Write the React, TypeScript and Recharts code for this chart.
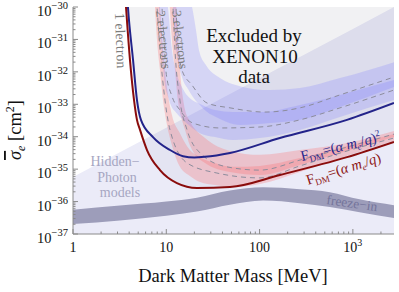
import React from "react";
import { ComposedChart, Area, Line, XAxis, YAxis } from "recharts";

const SERIF = "'Times New Roman', 'Liberation Serif', Times, serif";

// x: dark matter mass in MeV, y: log10 of the cross section in cm^2
const xDomain = [1, 2760];
const yDomain = [-37, -30];
const xMajor = [1, 10, 100, 1000];
const xLabels: Record<number, string> = { 1: "1", 10: "10", 100: "100" };

// region favoured by hidden-photon models (below the diagonal)
const hiddenPhoton = [
  { m: 1, lo: -37.5, hi: -35.24 },
  { m: 10, lo: -37.5, hi: -33.72 },
  { m: 100, lo: -37.5, hi: -32.2 },
  { m: 1000, lo: -37.5, hi: -30.68 },
  { m: 2760, lo: -37.5, hi: -30.0 },
];

// 1-electron XENON10 bound, F_DM = (alpha m_e / q)
const redCurve = [
  { m: 3.6, s: -29.5 },
  { m: 3.7, s: -30.0 },
  { m: 4.08, s: -31.63 },
  { m: 4.51, s: -32.87 },
  { m: 4.85, s: -33.48 },
  { m: 5.23, s: -33.79 },
  { m: 6.21, s: -34.41 },
  { m: 8.56, s: -35.03 },
  { m: 13.0, s: -35.43 },
  { m: 21.3, s: -35.58 },
  { m: 48.2, s: -35.55 },
  { m: 165, s: -35.18 },
  { m: 865, s: -34.63 },
  { m: 2760, s: -34.16 },
];

// 1-electron XENON10 bound, F_DM = (alpha m_e / q)^2
const blueCurve = [
  { m: 3.78, s: -29.5 },
  { m: 3.88, s: -30.0 },
  { m: 4.4, s: -31.63 },
  { m: 4.85, s: -32.87 },
  { m: 5.35, s: -33.48 },
  { m: 7.2, s: -34.01 },
  { m: 10.96, s: -34.41 },
  { m: 15.1, s: -34.6 },
  { m: 20, s: -34.64 },
  { m: 26.0, s: -34.62 },
  { m: 48.2, s: -34.5 },
  { m: 165, s: -34.04 },
  { m: 865, s: -33.48 },
  { m: 2760, s: -32.96 },
];

// freeze-in band
const freezeIn = [
  { m: 1, lo: -36.69, hi: -36.25 },
  { m: 3.19, lo: -36.58, hi: -36.12 },
  { m: 10, lo: -36.44, hi: -36.0 },
  { m: 21.3, lo: -36.31, hi: -35.88 },
  { m: 48, lo: -36.1, hi: -35.66 },
  { m: 109, lo: -35.97, hi: -35.56 },
  { m: 270, lo: -36.05, hi: -35.62 },
  { m: 566, lo: -36.17, hi: -35.71 },
  { m: 1180, lo: -36.33, hi: -35.93 },
  { m: 2760, lo: -36.51, hi: -36.11 },
];

// 2-electron band, F_DM = (alpha m_e / q)
const band2Red = [
  { m: 7.5, lo: -29.8, hi: -29.5 },
  { m: 7.95, lo: -31.02, hi: -29.5 },
  { m: 8.56, lo: -31.94, hi: -30.0 },
  { m: 9.22, lo: -32.87, hi: -31.33 },
  { m: 9.93, lo: -33.48, hi: -32.25 },
  { m: 11.5, lo: -34.26, hi: -33.33 },
  { m: 14.0, lo: -34.93, hi: -33.89 },
  { m: 17.9, lo: -35.21, hi: -34.41 },
  { m: 23.0, lo: -35.4, hi: -34.63 },
  { m: 33.3, lo: -35.49, hi: -34.81 },
  { m: 51.9, lo: -35.55, hi: -34.93 },
  { m: 101, lo: -35.46, hi: -34.9 },
  { m: 271, lo: -35.09, hi: -34.66 },
  { m: 865, lo: -34.59, hi: -34.29 },
  { m: 2760, lo: -34.13, hi: -33.92 },
];
const dash2Red = [
  { m: 7.7, s: -29.5 },
  { m: 7.95, s: -30.0 },
  { m: 8.56, s: -31.33 },
  { m: 9.68, s: -32.87 },
  { m: 10.96, s: -33.79 },
  { m: 16.7, s: -34.81 },
  { m: 34.9, s: -35.12 },
  { m: 101, s: -35.27 },
  { m: 271, s: -34.9 },
  { m: 865, s: -34.44 },
  { m: 2760, s: -34.04 },
];

// 3-electron band, F_DM = (alpha m_e / q)
const band3Red = [
  { m: 10.8, lo: -29.8, hi: -29.5 },
  { m: 11.5, lo: -31.02, hi: -29.5 },
  { m: 12.4, lo: -31.94, hi: -29.5 },
  { m: 13.3, lo: -32.87, hi: -31.02 },
  { m: 14.7, lo: -33.48, hi: -32.56 },
  { m: 15.9, lo: -33.79, hi: -33.18 },
  { m: 17.9, lo: -34.26, hi: -33.52 },
  { m: 26.0, lo: -34.81, hi: -34.04 },
  { m: 48.2, lo: -35.09, hi: -34.44 },
  { m: 101, lo: -35.18, hi: -34.56 },
  { m: 271, lo: -34.87, hi: -34.41 },
  { m: 865, lo: -34.44, hi: -34.19 },
  { m: 2760, lo: -34.01, hi: -33.82 },
];
const dash3Red = [
  { m: 11.6, s: -29.5 },
  { m: 11.8, s: -30.0 },
  { m: 12.4, s: -31.33 },
  { m: 14.0, s: -32.87 },
  { m: 16.7, s: -33.79 },
  { m: 23.0, s: -34.5 },
  { m: 44.7, s: -34.93 },
  { m: 101, s: -35.03 },
  { m: 271, s: -34.72 },
  { m: 865, s: -34.32 },
  { m: 2760, s: -33.92 },
];

// 2-electron band, F_DM = (alpha m_e / q)^2
const band2Blue = [
  { m: 8.25, lo: -29.8, hi: -29.5 },
  { m: 8.77, lo: -31.02, hi: -29.5 },
  { m: 9.68, lo: -32.4, hi: -29.5 },
  { m: 10.4, lo: -32.75, hi: -30.0 },
  { m: 11.5, lo: -33.1, hi: -31.33 },
  { m: 12.7, lo: -33.25, hi: -31.97 },
  { m: 15.1, lo: -33.48, hi: -32.53 },
  { m: 18.9, lo: -33.73, hi: -32.87 },
  { m: 23.0, lo: -33.89, hi: -32.99 },
  { m: 33.3, lo: -34.01, hi: -33.18 },
  { m: 51.9, lo: -34.1, hi: -33.24 },
  { m: 101, lo: -34.04, hi: -33.24 },
  { m: 271, lo: -33.79, hi: -33.02 },
  { m: 728, lo: -33.39, hi: -32.71 },
  { m: 2760, lo: -32.87, hi: -32.25 },
];
const dash2Blue = [
  { m: 8.8, s: -29.5 },
  { m: 8.99, s: -30.0 },
  { m: 9.45, s: -31.02 },
  { m: 9.93, s: -32.0 },
  { m: 11.5, s: -32.75 },
  { m: 14.0, s: -33.18 },
  { m: 19.3, s: -33.58 },
  { m: 37.6, s: -33.73 },
  { m: 101, s: -33.7 },
  { m: 271, s: -33.48 },
  { m: 728, s: -33.11 },
  { m: 2760, s: -32.56 },
];

// 3-electron band, F_DM = (alpha m_e / q)^2
const band3Blue = [
  { m: 11.7, lo: -29.8, hi: -29.5 },
  { m: 12.4, lo: -31.02, hi: -29.5 },
  { m: 13.3, lo: -31.63, hi: -29.5 },
  { m: 15.1, lo: -32.25, hi: -29.5 },
  { m: 17.1, lo: -32.53, hi: -29.5 },
  { m: 18.9, lo: -32.74, hi: -30.0 },
  { m: 20.8, lo: -32.9, hi: -30.71 },
  { m: 22.4, lo: -32.99, hi: -31.33 },
  { m: 26.6, lo: -33.21, hi: -31.79 },
  { m: 37.6, lo: -33.45, hi: -32.19 },
  { m: 61.6, lo: -33.64, hi: -32.44 },
  { m: 129, lo: -33.58, hi: -32.56 },
  { m: 271, lo: -33.48, hi: -32.5 },
  { m: 728, lo: -33.08, hi: -32.19 },
  { m: 2760, lo: -32.47, hi: -31.7 },
];
const dash3Blue = [
  { m: 12.5, s: -29.5 },
  { m: 12.7, s: -30.0 },
  { m: 13.3, s: -31.02 },
  { m: 14.7, s: -31.94 },
  { m: 18.9, s: -32.41 },
  { m: 27.3, s: -32.96 },
  { m: 48.2, s: -33.11 },
  { m: 114, s: -33.24 },
  { m: 271, s: -33.11 },
  { m: 728, s: -32.71 },
  { m: 2760, s: -32.16 },
];

const xTicks: number[] = [];
for (const d of xMajor) {
  for (let k = 1; k <= 9; k++) if (d * k <= xDomain[1]) xTicks.push(d * k);
}
const yTicks: number[] = [];
for (let n = yDomain[0]; n < yDomain[1]; n++) {
  yTicks.push(n);
  for (let k = 2; k <= 9; k++) yTicks.push(n + Math.log10(k));
}
yTicks.push(yDomain[1]);

const isMajorY = (v: number) => Math.abs(v - Math.round(v)) < 1e-6;
const TICK = "#8a8a8a";

const BottomTick = ({ x, y, payload }: any) => {
  const v = payload.value;
  const major = xMajor.includes(v);
  return (
    <g>
      <line x1={x} x2={x} y1={y} y2={y - (major ? 5 : 2.5)} stroke={TICK} />
      {major && (
        <text x={x} y={y + 18} textAnchor="middle" style={{ fontFamily: SERIF }} fontSize={14} fill="#111">
          {v === 1000 ? (
            <>
              <tspan>10</tspan>
              <tspan fontSize={10} dy={-6}>3</tspan>
            </>
          ) : (
            xLabels[v]
          )}
        </text>
      )}
    </g>
  );
};

const TopTick = ({ x, y, payload }: any) => {
  const major = xMajor.includes(payload.value);
  return <line x1={x} x2={x} y1={y} y2={y + (major ? 5 : 2.5)} stroke={TICK} />;
};

const LeftTick = ({ x, y, payload }: any) => {
  const v = payload.value;
  const major = isMajorY(v);
  return (
    <g>
      <line x1={x} x2={x + (major ? 5 : 2.5)} y1={y} y2={y} stroke={TICK} />
      {major && (
        <text x={x - 5} y={y + 9} textAnchor="end" style={{ fontFamily: SERIF }} fill="#111">
          <tspan fontSize={14.5}>10</tspan>
          <tspan fontSize={10.5} dy={-7}>{"\u2212" + Math.abs(Math.round(v))}</tspan>
        </text>
      )}
    </g>
  );
};

const RightTick = ({ x, y, payload }: any) => {
  const major = isMajorY(payload.value);
  return <line x1={x} x2={x - (major ? 5 : 2.5)} y1={y} y2={y} stroke={TICK} />;
};

const range = (d: any) => [d.lo, d.hi];
const above = (d: any) => [d.s, -29];

const PINK = "#ff5f5f";
const LILAC = "#7070ff";
const DASH = "#8c8c9c";

export default function App() {
  return (
    <div style={{ position: "absolute", left: 0, top: 0, width: 399, height: 292, background: "#fff" }}>
      <ComposedChart width={399} height={292} margin={{ top: 7, right: 5, left: 0, bottom: 0 }}>
        <XAxis
          dataKey="m"
          type="number"
          scale="log"
          domain={xDomain}
          allowDataOverflow
          ticks={xTicks}
          interval={0}
          height={58}
          tickSize={0}
          tickMargin={0}
          tickLine={false}
          axisLine={{ stroke: TICK }}
          tick={<BottomTick />}
        />
        <XAxis
          xAxisId="top"
          orientation="top"
          dataKey="m"
          type="number"
          scale="log"
          domain={xDomain}
          allowDataOverflow
          ticks={xTicks}
          interval={0}
          height={0}
          tickSize={0}
          tickMargin={0}
          tickLine={false}
          axisLine={{ stroke: TICK }}
          tick={<TopTick />}
        />
        <YAxis
          type="number"
          domain={yDomain}
          allowDataOverflow
          ticks={yTicks}
          interval={0}
          width={73}
          tickSize={0}
          tickMargin={0}
          tickLine={false}
          axisLine={{ stroke: TICK }}
          tick={<LeftTick />}
        />
        <YAxis
          yAxisId="right"
          orientation="right"
          type="number"
          domain={yDomain}
          allowDataOverflow
          ticks={yTicks}
          interval={0}
          width={0}
          tickSize={0}
          tickMargin={0}
          tickLine={false}
          axisLine={{ stroke: TICK }}
          tick={<RightTick />}
        />

        <Area data={hiddenPhoton} dataKey={range} type="linear" fill="#ebebf8" fillOpacity={1} stroke="none" isAnimationActive={false} dot={false} activeDot={false} />
        <Area data={redCurve} dataKey={above} type="monotone" fill="#30304a" fillOpacity={0.035} stroke="none" isAnimationActive={false} dot={false} activeDot={false} />
        <Area data={blueCurve} dataKey={above} type="monotone" fill="#30304a" fillOpacity={0.035} stroke="none" isAnimationActive={false} dot={false} activeDot={false} />
        <Area data={freezeIn} dataKey={range} type="monotone" fill="#9d9dba" fillOpacity={1} stroke="none" isAnimationActive={false} dot={false} activeDot={false} />

        <Area data={band2Red} dataKey={range} type="monotone" fill={PINK} fillOpacity={0.26} stroke="none" isAnimationActive={false} dot={false} activeDot={false} />
        <Area data={band3Red} dataKey={range} type="monotone" fill={PINK} fillOpacity={0.26} stroke="none" isAnimationActive={false} dot={false} activeDot={false} />
        <Area data={band2Blue} dataKey={range} type="monotone" fill={LILAC} fillOpacity={0.22} stroke="none" isAnimationActive={false} dot={false} activeDot={false} />
        <Area data={band3Blue} dataKey={range} type="monotone" fill={LILAC} fillOpacity={0.22} stroke="none" isAnimationActive={false} dot={false} activeDot={false} />

        <Line data={dash2Red} dataKey="s" type="monotone" stroke={DASH} strokeWidth={1} strokeDasharray="5 4" dot={false} activeDot={false} isAnimationActive={false} />
        <Line data={dash3Red} dataKey="s" type="monotone" stroke={DASH} strokeWidth={1} strokeDasharray="5 4" dot={false} activeDot={false} isAnimationActive={false} />
        <Line data={dash2Blue} dataKey="s" type="monotone" stroke={DASH} strokeWidth={1} strokeDasharray="5 4" dot={false} activeDot={false} isAnimationActive={false} />
        <Line data={dash3Blue} dataKey="s" type="monotone" stroke={DASH} strokeWidth={1} strokeDasharray="5 4" dot={false} activeDot={false} isAnimationActive={false} />

        <Line data={blueCurve} dataKey="s" type="monotone" stroke="#23238a" strokeWidth={2} dot={false} activeDot={false} isAnimationActive={false} />
        <Line data={redCurve} dataKey="s" type="monotone" stroke="#8a0c0c" strokeWidth={2} dot={false} activeDot={false} isAnimationActive={false} />
      </ComposedChart>

      <svg width={399} height={292} style={{ position: "absolute", left: 0, top: 0, pointerEvents: "none", fontFamily: SERIF }}>
        <text x={233} y={282} textAnchor="middle" fontSize={18.5} fill="#111">Dark Matter Mass [MeV]</text>
        <text transform="translate(21,130) rotate(-90)" textAnchor="middle" fontSize={18.5} fill="#111">
          <tspan fontStyle="italic" textDecoration="overline">σ</tspan>
          <tspan fontStyle="italic" fontSize={12} dy={4}>e</tspan>
          <tspan dy={-4}> [cm</tspan>
          <tspan fontSize={12} dy={-7}>2</tspan>
          <tspan dy={7}>]</tspan>
        </text>

        <g fontSize={19} fill="#111" textAnchor="middle">
          <text x={254} y={42}>Excluded by</text>
          <text x={255} y={63}>XENON10</text>
          <text x={254} y={83}>data</text>
        </g>

        <g fontSize={14} fill="#7c7c7c">
          <text transform="translate(115,13) rotate(88)">1 electron</text>
          <text transform="translate(156,11) rotate(84)" fontSize={13.5}>2 electrons</text>
          <text transform="translate(172,11) rotate(83)" fontSize={13.5}>3 electrons</text>
        </g>

        <g fontSize={14} fill="#a6a6c2" textAnchor="middle">
          <text x={115} y={166}>Hidden−</text>
          <text x={117} y={182}>Photon</text>
          <text x={120} y={197}>models</text>
        </g>

        <text transform="translate(302,161) rotate(-14)" fontSize={14.5} fill="#26268c">
          <tspan>F</tspan>
          <tspan fontSize={9} dy={3}>DM</tspan>
          <tspan dy={-3}>=(</tspan>
          <tspan fontStyle="italic">α m</tspan>
          <tspan fontStyle="italic" fontSize={9} dy={3}>e</tspan>
          <tspan dy={-3}>/</tspan>
          <tspan fontStyle="italic">q</tspan>
          <tspan>)</tspan>
          <tspan fontSize={9} dy={-6}>2</tspan>
        </text>
        <text transform="translate(308,185) rotate(-17.5)" fontSize={14.5} fill="#8c1414">
          <tspan>F</tspan>
          <tspan fontSize={9} dy={3}>DM</tspan>
          <tspan dy={-3}>=(</tspan>
          <tspan fontStyle="italic">α m</tspan>
          <tspan fontStyle="italic" fontSize={9} dy={3}>e</tspan>
          <tspan dy={-3}>/</tspan>
          <tspan fontStyle="italic">q</tspan>
          <tspan>)</tspan>
        </text>

        <text transform="translate(326,204) rotate(8)" fontSize={13.5} fill="#74749a">freeze−in</text>
      </svg>
    </div>
  );
}
